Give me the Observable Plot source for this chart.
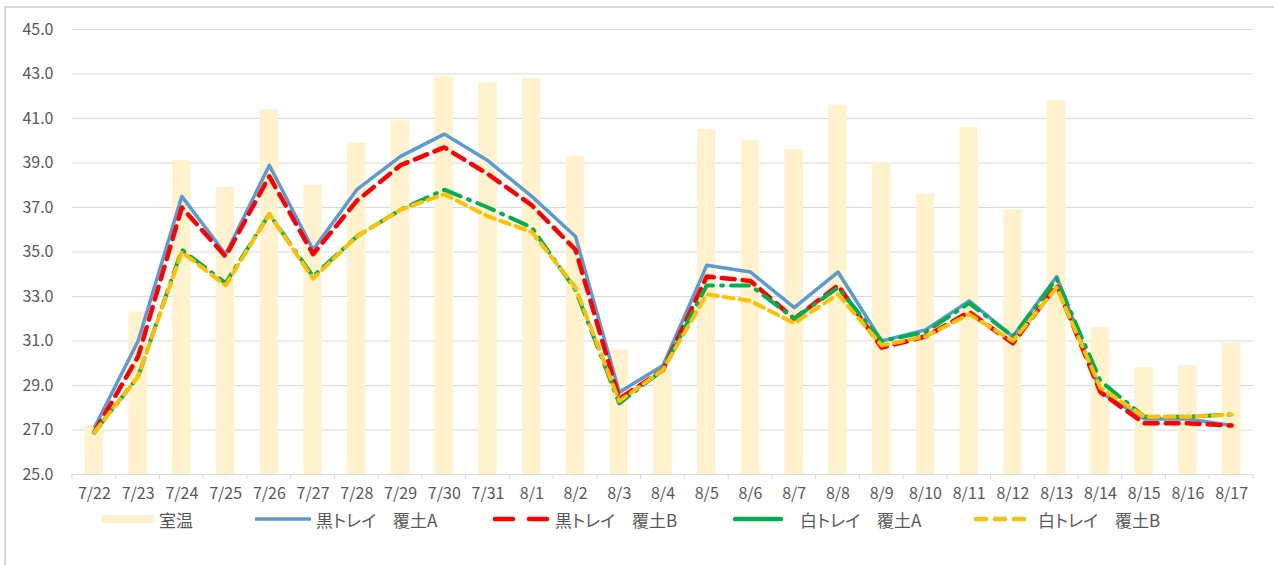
<!DOCTYPE html>
<html>
<head>
<meta charset="utf-8">
<script src="https://cdn.jsdelivr.net/npm/d3@7"></script>
<script src="https://cdn.jsdelivr.net/npm/@observablehq/plot@0.6"></script>
<style>
  html, body { margin: 0; padding: 0; background: #fff; }
  #wrap { position: relative; width: 1274px; height: 565px; overflow: hidden; font-family: "Noto Sans CJK JP", "Noto Sans", sans-serif; }
  #border { position: absolute; left: 4px; top: 6px; width: 1400px; height: 700px; border: 2px solid #d9d9d9; box-sizing: border-box; }
  #chart { position: absolute; left: 0; top: 0; }
  #legend { position: absolute; left: 0; top: 506px; width: 1274px; height: 26px; }
  .item { position: absolute; top: 0; height: 26px; display: flex; align-items: center; font-size: 17px; color: #595959; white-space: pre; font-feature-settings: "palt"; }
  .item svg { display: block; margin-right: 5px; }
</style>
</head>
<body>
<div id="wrap">
  <div id="border"></div>
  <div id="chart"></div>
  <div id="legend"></div>
</div>
<script>
// ---- data ----
const dates = ["7/22","7/23","7/24","7/25","7/26","7/27","7/28","7/29","7/30","7/31",
  "8/1","8/2","8/3","8/4","8/5","8/6","8/7","8/8","8/9","8/10","8/11","8/12","8/13","8/14","8/15","8/16","8/17"];
const roomTemp = [27.2, 32.3, 39.1, 37.9, 41.4, 38.0, 39.9, 40.9, 42.9, 42.6, 42.8, 39.3, 30.6, 29.7,
  40.5, 40.0, 39.6, 41.6, 39.0, 37.6, 40.6, 36.9, 41.8, 31.6, 29.8, 29.9, 30.9];
const blackA = [27.1, 31.0, 37.5, 34.9, 38.9, 35.1, 37.8, 39.3, 40.3, 39.1, 37.5, 35.7, 28.7, 29.9,
  34.4, 34.1, 32.5, 34.1, 31.0, 31.5, 32.8, 31.2, 33.9, 28.7, 27.5, 27.5, 27.2];
const blackB = [26.9, 30.3, 37.0, 34.8, 38.4, 34.9, 37.3, 38.9, 39.7, 38.5, 37.1, 35.1, 28.4, 29.7,
  33.9, 33.7, 32.0, 33.5, 30.7, 31.2, 32.3, 30.9, 33.5, 28.7, 27.3, 27.3, 27.2];
const whiteA = [26.9, 29.4, 35.1, 33.6, 36.7, 33.9, 35.7, 36.9, 37.8, 37.0, 36.1, 33.3, 28.2, 29.7,
  33.5, 33.5, 32.0, 33.4, 31.0, 31.4, 32.7, 31.2, 33.8, 29.2, 27.6, 27.6, 27.7];
const whiteB = [26.9, 29.4, 35.0, 33.5, 36.7, 33.8, 35.7, 36.9, 37.6, 36.6, 35.9, 33.4, 28.3, 29.7,
  33.1, 32.8, 31.8, 33.1, 30.8, 31.2, 32.2, 31.0, 33.4, 28.9, 27.6, 27.6, 27.7];
const yTicks = [25, 27, 29, 31, 33, 35, 37, 39, 41, 43, 45];

const seriesNames = ["室温", "黒トレイ　覆土A", "黒トレイ　覆土B", "白トレイ　覆土A", "白トレイ　覆土B"];

// ---- styles ----
const barColor = "#FFF2CC";
const lineStyles = [
  {values: blackA, stroke: "#5B9BD5", strokeWidth: 3.5, dash: null},
  {values: blackB, stroke: "#FF0000", strokeWidth: 4.5, dash: "13,8"},
  {values: whiteA, stroke: "#00B050", strokeWidth: 4, dash: "18,8,2,8"},
  {values: whiteB, stroke: "#FFC000", strokeWidth: 4, dash: "10,6"}
];

const W = 1274, ML = 72, MR = 21;
const barInset = (W - ML - MR) / dates.length * 0.29;

const barData = dates.map((d, i) => ({date: d, value: roomTemp[i]}));

// boundary tick marks under the axis (Excel style), derived from the band scale
function boundaryTicks(index, scales, values, dimensions) {
  const x = scales.x;
  const step = x(dates[1]) - x(dates[0]);
  const yb = dimensions.height - dimensions.marginBottom;
  const g = d3.create("svg:g");
  const edges = dates.map(d => x(d));
  edges.push(x(dates[dates.length - 1]) + step);
  for (const e of edges) {
    g.append("line").attr("x1", e).attr("x2", e).attr("y1", yb).attr("y2", yb + 5)
      .attr("stroke", "#d9d9d9").attr("stroke-width", 1);
  }
  return g.node();
}

const marks = [
  Plot.gridY(yTicks, {stroke: "#d9d9d9", strokeOpacity: 1, strokeWidth: 1}),
  Plot.barY(barData, {x: "date", y1: () => 25, y2: "value", fill: barColor, insetLeft: barInset, insetRight: barInset}),
  Plot.ruleY([25], {stroke: "#d9d9d9", strokeWidth: 1}),
  boundaryTicks,
  ...lineStyles.map(s => Plot.line(dates.map((d, i) => ({date: d, value: s.values[i]})), {
    x: "date", y: "value", stroke: s.stroke, strokeWidth: s.strokeWidth,
    strokeDasharray: s.dash || undefined, strokeLinejoin: "round", strokeLinecap: s.dash ? "round" : "butt"
  })),
  Plot.axisY(yTicks, {tickSize: 0, tickPadding: 19, tickFormat: d => d.toFixed(1), fontSize: 16, fill: "#595959", label: null}),
  Plot.axisX(dates, {tickSize: 0, tickPadding: 13, fontSize: 16, fill: "#595959", label: null})
];

const chart = Plot.plot({
  width: W,
  height: 505,
  marginLeft: ML,
  marginRight: MR,
  marginTop: 29,
  marginBottom: 31,
  style: {background: "transparent", fontFamily: "'Noto Sans CJK JP', 'Noto Sans', sans-serif", color: "#595959"},
  x: {type: "band", domain: dates, padding: 0, round: false, label: null},
  y: {domain: [25, 45], label: null},
  marks
});
document.getElementById("chart").appendChild(chart);

// ---- legend ----
const legend = document.getElementById("legend");
const legendItems = [
  {left: 101, swatch: `<svg width="53" height="10"><rect x="0" y="1" width="53" height="8" fill="${barColor}"/></svg>`},
  {left: 255, swatch: `<svg width="56" height="10"><line x1="1" x2="55" y1="5" y2="5" stroke="#5B9BD5" stroke-width="3.5" stroke-linecap="round"/></svg>`},
  {left: 493, swatch: `<svg width="57" height="10"><line x1="2" x2="55" y1="5" y2="5" stroke="#FF0000" stroke-width="4.5" stroke-dasharray="18,16" stroke-linecap="round"/></svg>`},
  {left: 733, swatch: `<svg width="62" height="10"><line x1="2" x2="48" y1="5" y2="5" stroke="#00B050" stroke-width="4.5" stroke-linecap="round"/></svg>`},
  {left: 973, swatch: `<svg width="60" height="10"><line x1="3" x2="56" y1="5" y2="5" stroke="#FFC000" stroke-width="4.5" stroke-dasharray="10,9" stroke-linecap="round"/></svg>`}
];
legendItems.forEach((it, i) => {
  const div = document.createElement("div");
  div.className = "item";
  div.style.left = it.left + "px";
  div.innerHTML = it.swatch + `<span>${seriesNames[i]}</span>`;
  legend.appendChild(div);
});
</script>
</body>
</html>
